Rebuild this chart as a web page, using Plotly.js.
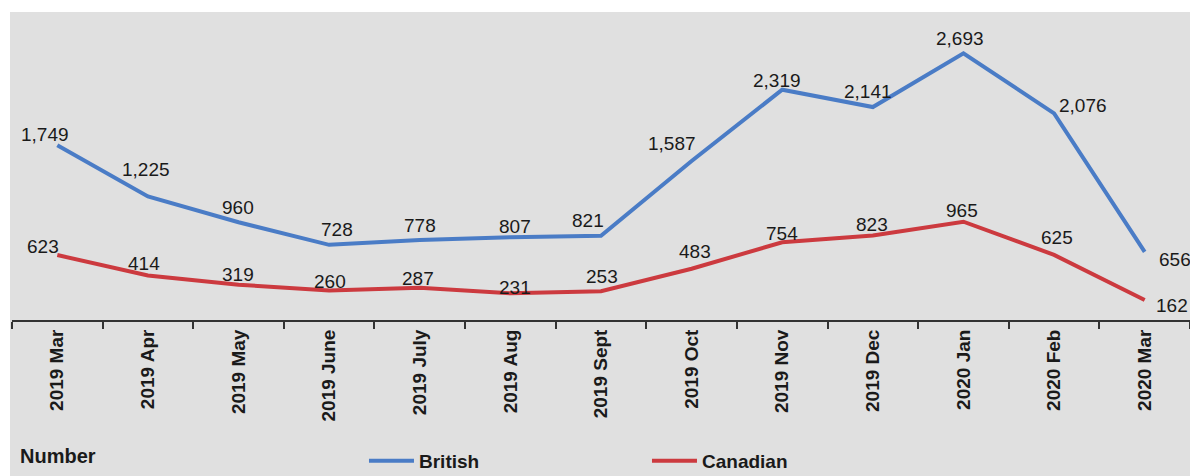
<!DOCTYPE html>
<html>
<head>
<meta charset="utf-8">
<script src="https://cdn.plot.ly/plotly-3.0.1.min.js"></script>
<style>
html,body{margin:0;padding:0;background:#ffffff;}
#chart{position:absolute;left:10px;top:12px;width:1180px;height:464px;}
</style>
</head>
<body>
<div id="chart"></div>
<script>
const months = ["2019 Mar","2019 Apr","2019 May","2019 June","2019 July","2019 Aug","2019 Sept","2019 Oct","2019 Nov","2019 Dec","2020 Jan","2020 Feb","2020 Mar"];
const british = [1749,1225,960,728,778,807,821,1587,2319,2141,2693,2076,656];
const canadian = [623,414,319,260,287,231,253,483,754,823,965,625,162];

// label offsets in pixels (label centre relative to the point), kept apart from the data
const britishLabelDx = [-12,-2,-1,8,0,5,-13,-20,-5,-5,-3,29,30];
const britishLabelDy = [11,27,15,15,14,11,15,18,9,16,15,8,-8];
const canadianLabelDx = [-14,-4,-1,1,-2,5,1,3,0,-1,-1,3,27];
const canadianLabelDy = [9,12,10,9,9,6,15,17,9,11,11,17,-5];

const fmt = v => v.toLocaleString('en-US');
const FONT = "Liberation Sans, Arial, sans-serif";
const labelFont = {family: FONT, size: 19, color: "#1a1a1a"};

const traces = [
  {x: months, y: british, name: "British", type: "scatter", mode: "lines",
   line: {color: "#4a7cc6", width: 4}, hoverinfo: "x+y"},
  {x: months, y: canadian, name: "Canadian", type: "scatter", mode: "lines",
   line: {color: "#cc3a3f", width: 4}, hoverinfo: "x+y"}
];

function labels(vals, dx, dy) {
  return vals.map((v, i) => ({
    x: months[i], y: v, xref: "x", yref: "y", text: fmt(v), showarrow: false,
    xanchor: "center", yanchor: "middle", xshift: dx[i], yshift: dy[i], font: labelFont
  }));
}

const annotations = [
  ...labels(british, britishLabelDx, britishLabelDy),
  ...labels(canadian, canadianLabelDx, canadianLabelDy),
  {text: "Number", xref: "paper", yref: "paper", x: 0.005, y: -0.443, xanchor: "left", yanchor: "middle",
   showarrow: false, font: {family: FONT, size: 20, color: "#1a1a1a", weight: "bold"}}
];

const layout = {
  width: 1180, height: 464,
  margin: {l: 2, r: 0, t: 0, b: 156, autoexpand: false},
  paper_bgcolor: "#e0e0e0", plot_bgcolor: "#e0e0e0",
  font: {family: FONT, color: "#1a1a1a"},
  showlegend: true,
  legend: {orientation: "h", x: 0.2988, xref: "paper", y: 0.0323, yref: "container",
           xanchor: "left", yanchor: "middle",
           bgcolor: "rgba(0,0,0,0)", itemwidth: 45, entrywidth: 223, entrywidthmode: "pixels",
           font: {family: FONT, size: 19, color: "#1a1a1a", weight: "bold"}},
  xaxis: {type: "category", showgrid: false, zeroline: false, showline: true, linecolor: "#333333", linewidth: 2,
          ticks: "outside", tickson: "boundaries", ticklen: 7, tickwidth: 2, tickcolor: "#333333",
          tickangle: -90, tickfont: {family: FONT, size: 19, color: "#1a1a1a", weight: "bold"},
          automargin: false, range: [-0.5, 12.5], fixedrange: true},
  yaxis: {range: [-43, 3116], visible: false, showgrid: false, zeroline: false, automargin: false, fixedrange: true},
  annotations: annotations
};

Plotly.newPlot("chart", traces, layout, {displayModeBar: false, staticPlot: true});
</script>
</body>
</html>
